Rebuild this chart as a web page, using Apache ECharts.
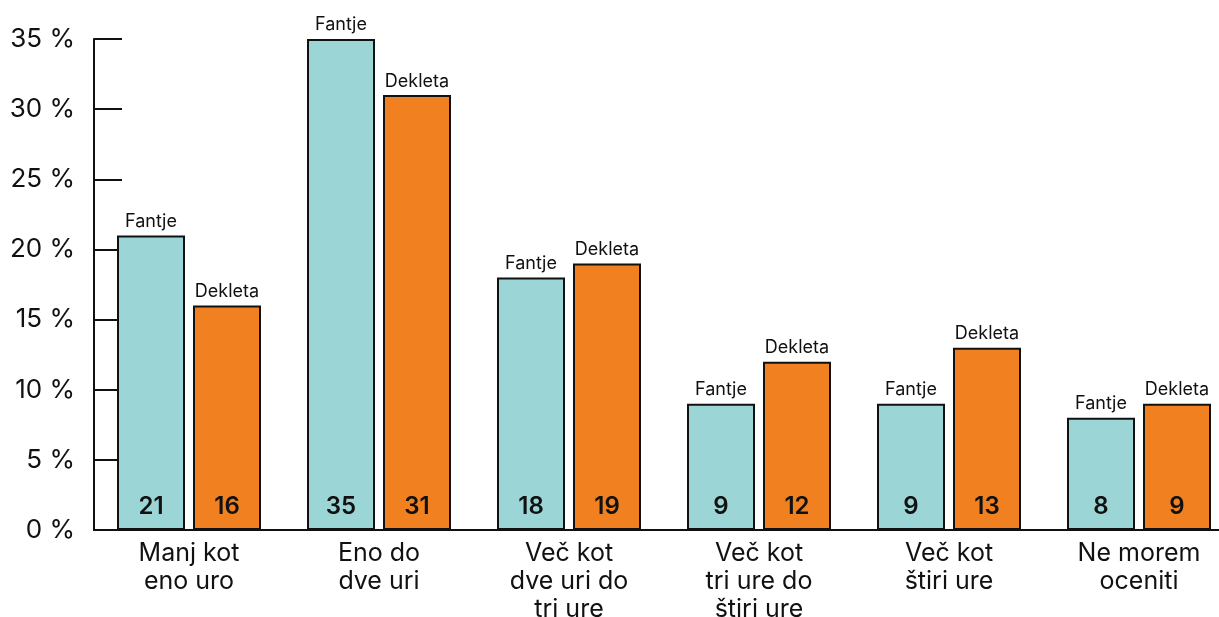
<!DOCTYPE html>
<html><head><meta charset="utf-8">
<script src="https://cdn.jsdelivr.net/npm/echarts@6/dist/echarts.min.js"></script>
<style>html,body{margin:0;padding:0;background:#fff}#c{width:1219px;height:617px}</style>
</head><body><div id="c"></div>
<script>
const categories = ["Manj kot\neno uro", "Eno do\ndve uri", "Več kot\ndve uri do\ntri ure", "Več kot\ntri ure do\nštiri ure", "Več kot\nštiri ure", "Ne morem\noceniti"];
const seriesNames = ["Fantje", "Dekleta"];
const fantje = [21, 35, 18, 9, 9, 8];
const dekleta = [16, 31, 19, 12, 13, 9];
const colors = ["#9cd5d6", "#f08020"];
const FONT = "Inter, 'Open Sans', sans-serif";
const BW = 68, GAP = 8;

function mk(name, data, color) {
  return {
    name: name, type: 'bar', data: data, barWidth: BW, barGap: (GAP / BW * 100) + '%',
    itemStyle: { color: color, borderColor: '#111', borderWidth: 2 },
    label: { show: true, position: 'insideBottom', distance: 11, formatter: '{c}',
      fontFamily: FONT, fontSize: 24, fontWeight: 600, color: '#111' }
  };
}
const topFn = (seriesIndex, values, name) => ({
  type: 'custom', silent: true, z: 10,
  renderItem: function(params, api) {
    const i = params.dataIndex;
    const base = api.coord([i, api.value(1)]);
    const offset = seriesIndex === 0 ? -(BW + GAP) / 2 : (BW + GAP) / 2;
    return { type: 'text', style: { text: name, x: base[0] + offset, y: base[1] - 5,
      textAlign: 'center', textVerticalAlign: 'bottom', font: '18px ' + FONT, fill: '#111' } };
  },
  data: values.map((v, i) => [i, v])
});

const chart = echarts.init(document.getElementById('c'));
chart.setOption({
  animation: false,
  grid: { left: 94, top: 39, width: 1140, bottom: 87, containLabel: false, outerBoundsMode: 'none' },
  xAxis: { type: 'category', data: categories,
    axisLine: { lineStyle: { color: '#111', width: 2 } }, axisTick: { show: false },
    axisLabel: { fontFamily: FONT, fontSize: 25, color: '#111', lineHeight: 28, margin: 9, interval: 0 } },
  yAxis: { type: 'value', min: 0, max: 35, interval: 5,
    axisLine: { show: true, lineStyle: { color: '#111', width: 2 } },
    axisTick: { show: true, inside: true, length: 28, lineStyle: { color: '#111', width: 2 } },
    splitLine: { show: false },
    axisLabel: { formatter: '{value} %', fontFamily: FONT, fontSize: 26, color: '#111', margin: 19 } },
  series: [mk(seriesNames[0], fantje, colors[0]), mk(seriesNames[1], dekleta, colors[1]),
    topFn(0, fantje, seriesNames[0]), topFn(1, dekleta, seriesNames[1])]
});
</script></body></html>
